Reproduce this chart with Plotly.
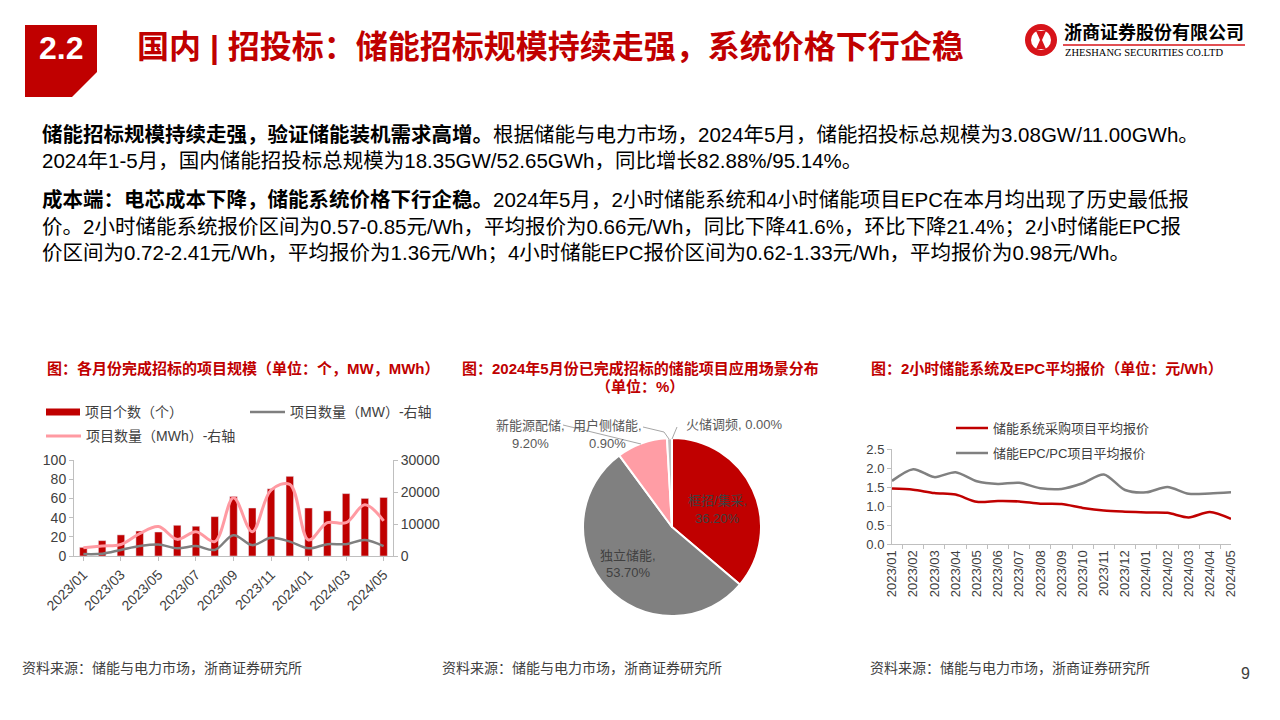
import plotly.graph_objects as go

W, H = 1280, 720
def px(x): return x / W
def py(y): return 1 - y / H

FONT = "Liberation Sans, Arial, Noto Sans CJK SC, sans-serif"
RED = "#C00000"
GRAY = "#7F7F7F"
PINK = "#FF9AA2"
AXIS = "#BFBFBF"
TICKC = "#404040"

# ---------------- data ----------------
months = ["2023/01", "2023/02", "2023/03", "2023/04", "2023/05", "2023/06", "2023/07", "2023/08",
          "2023/09", "2023/10", "2023/11", "2023/12", "2024/01", "2024/02", "2024/03", "2024/04", "2024/05"]
project_count = [9, 16, 22, 26, 25, 32, 31, 41, 62, 50, 70, 83, 50, 47, 65, 60, 61]
project_mw = [600, 700, 1900, 3100, 3600, 2400, 3100, 1900, 6500, 3400, 5700, 4500, 2400, 3700, 3700, 5000, 3080]
project_mwh = [2600, 3100, 3600, 7000, 9200, 5200, 7600, 4500, 18200, 7600, 20600, 22400, 5000, 10400, 10400, 16000, 11000]

pie_labels = ["框招/集采", "独立储能", "新能源配储", "用户侧储能", "火储调频"]
pie_values = [36.20, 53.70, 9.20, 0.90, 0.00]
pie_colors = [RED, "#808080", "#FF9DA5", "#BFBFBF", "#D9D9D9"]

sys_price = [1.46, 1.43, 1.34, 1.30, 1.11, 1.13, 1.12, 1.06, 1.05, 0.95, 0.88, 0.85, 0.83, 0.82, 0.70, 0.84, 0.66]
epc_price = [1.66, 1.97, 1.76, 1.89, 1.65, 1.58, 1.61, 1.47, 1.45, 1.60, 1.83, 1.42, 1.36, 1.50, 1.32, 1.33, 1.36]

fig = go.Figure()

# chart 1
fig.add_trace(go.Bar(x=months, y=project_count, marker_color=RED, xaxis="x", yaxis="y",
                     name="项目个数（个）", hoverinfo="skip"))
fig.add_trace(go.Scatter(x=months, y=project_mwh, mode="lines", xaxis="x", yaxis="y2",
                         line=dict(color=PINK, width=3, shape="spline", smoothing=1.0),
                         name="项目数量（MWh）-右轴", hoverinfo="skip"))
fig.add_trace(go.Scatter(x=months, y=project_mw, mode="lines", xaxis="x", yaxis="y2",
                         line=dict(color=GRAY, width=2.5, shape="spline", smoothing=1.0),
                         name="项目数量（MW）-右轴", hoverinfo="skip"))

# chart 2 (pie)
cx, cy, r = 672, 527, 89
fig.add_trace(go.Pie(labels=pie_labels, values=pie_values, sort=False, direction="clockwise",
                     rotation=0, marker=dict(colors=pie_colors, line=dict(color="white", width=2)),
                     textinfo="none", hoverinfo="skip", showlegend=False,
                     domain=dict(x=[px(cx - r), px(cx + r)], y=[py(cy + r), py(cy - r)])))

# chart 3
fig.add_trace(go.Scatter(x=months, y=sys_price, mode="lines", xaxis="x2", yaxis="y3",
                         line=dict(color=RED, width=2.5, shape="spline", smoothing=0.8),
                         name="储能系统采购项目平均报价", hoverinfo="skip"))
fig.add_trace(go.Scatter(x=months, y=epc_price, mode="lines", xaxis="x2", yaxis="y3",
                         line=dict(color="#808080", width=2.5, shape="spline", smoothing=0.8),
                         name="储能EPC/PC项目平均报价", hoverinfo="skip"))

common_axis = dict(showgrid=False, zeroline=False, showline=True, linecolor=AXIS, linewidth=1,
                   ticks="outside", ticklen=4, tickcolor=AXIS, automargin=False)

fig.update_layout(
    width=W, height=H, margin=dict(l=0, r=0, t=0, b=0, autoexpand=False),
    paper_bgcolor="white", plot_bgcolor="white", showlegend=False,
    font=dict(family=FONT), bargap=0.6,
    xaxis=dict(domain=[px(74), px(393)], anchor="y", type="category", categoryorder="array",
               categoryarray=months, tickvals=months[::2], tickangle=-45,
               tickfont=dict(family=FONT, size=14, color=TICKC), **common_axis),
    yaxis=dict(domain=[py(556), py(460)], anchor="x", range=[0, 100], dtick=20,
               tickfont=dict(family=FONT, size=14, color=TICKC), **common_axis),
    yaxis2=dict(overlaying="y", side="right", anchor="x", range=[0, 30000], dtick=10000, tickformat="d",
                tickfont=dict(family=FONT, size=14, color=TICKC), **common_axis),
    xaxis2=dict(domain=[px(892), px(1231)], anchor="y3", type="category", categoryorder="array",
                categoryarray=months, tickangle=-90, tickson="boundaries",
                tickfont=dict(family=FONT, size=13, color=TICKC), **common_axis),
    yaxis3=dict(domain=[py(544), py(449)], anchor="x2", range=[0, 2.5], dtick=0.5, tickformat=".1f",
                tickfont=dict(family=FONT, size=13, color=TICKC), **common_axis),
)

ann = []
shapes = []

def text(x, y, s, size=14, color="#000", xanchor="left", bold=False, family=FONT):
    ann.append(dict(x=px(x), y=py(y), xref="paper", yref="paper", text=(f"<b>{s}</b>" if bold else s),
                    showarrow=False, xanchor=xanchor, yanchor="middle",
                    font=dict(family=family, size=size, color=color)))

def line(x0, y0, x1, y1, color, width):
    shapes.append(dict(type="line", xref="paper", yref="paper", x0=px(x0), y0=py(y0), x1=px(x1), y1=py(y1),
                       line=dict(color=color, width=width)))

# header
shapes.append(dict(type="path", xref="paper", yref="paper", fillcolor=RED, line=dict(width=0),
                   path=f"M {px(25)} {py(25)} L {px(97)} {py(25)} L {px(97)} {py(72)} L {px(72)} {py(97)} L {px(25)} {py(97)} Z"))
text(61, 48, "2.2", size=32, color="white", xanchor="center", bold=True)
text(135, 47, "国内 | 招投标：储能招标规模持续走强，系统价格下行企稳", size=32, color=RED, bold=True)

# logo
shapes.append(dict(type="circle", xref="paper", yref="paper", x0=px(1025), x1=px(1057), y0=py(56), y1=py(24),
                   fillcolor="#D7141A", line=dict(width=0)))
shapes.append(dict(type="circle", xref="paper", yref="paper", x0=px(1031), x1=px(1051), y0=py(50), y1=py(30),
                   fillcolor="white", line=dict(width=0)))
shapes.append(dict(type="path", xref="paper", yref="paper", fillcolor="#D7141A", line=dict(width=0),
                   path=f"M {px(1036)} {py(31)} L {px(1046)} {py(31)} L {px(1042)} {py(40)} L {px(1046)} {py(49)} L {px(1036)} {py(49)} L {px(1040)} {py(40)} Z"))
text(1062, 33, "<b>浙商证券股份有限公司</b>", size=18, color="#000")
line(1063, 45, 1245, 45, "#D7141A", 1.5)
text(1063, 53, "ZHESHANG SECURITIES CO.LTD", size=10.5, color="#000", family="Liberation Serif, serif")

# body text
BS = 20.5
text(40, 134, "<b>储能招标规模持续走强，验证储能装机需求高增。</b>根据储能与电力市场，2024年5月，储能招投标总规模为3.08GW/11.00GWh。", size=BS)
text(40, 160, "2024年1-5月，国内储能招投标总规模为18.35GW/52.65GWh，同比增长82.88%/95.14%。", size=BS)
text(40, 199, "<b>成本端：电芯成本下降，储能系统价格下行企稳。</b>2024年5月，2小时储能系统和4小时储能项目EPC在本月均出现了历史最低报", size=BS)
text(40, 226, "价。2小时储能系统报价区间为0.57-0.85元/Wh，平均报价为0.66元/Wh，同比下降41.6%，环比下降21.4%；2小时储能EPC报", size=BS)
text(40, 253, "价区间为0.72-2.41元/Wh，平均报价为1.36元/Wh；4小时储能EPC报价区间为0.62-1.33元/Wh，平均报价为0.98元/Wh。", size=BS)

# chart titles
text(45, 369, "图：各月份完成招标的项目规模（单位：个，MW，MWh）", size=15, color=RED, bold=True)
text(640, 368, "图：2024年5月份已完成招标的储能项目应用场景分布", size=15, color=RED, xanchor="center", bold=True)
text(640, 386, "（单位：%）", size=15, color=RED, xanchor="center", bold=True)
text(869, 369, "图：2小时储能系统及EPC平均报价（单位：元/Wh）", size=15, color=RED, bold=True)

# chart 1 legend
line(46, 412, 80, 412, RED, 7)
text(83, 412, "项目个数（个）", size=14, color=TICKC)
line(250, 412, 285, 412, GRAY, 2.5)
text(288, 412, "项目数量（MW）-右轴", size=14, color=TICKC)
line(46, 436, 81, 436, PINK, 3)
text(84, 436, "项目数量（MWh）-右轴", size=14, color=TICKC)

# chart 3 legend
line(956, 428, 988, 428, RED, 2.5)
text(991, 428, "储能系统采购项目平均报价", size=13, color=TICKC)
line(956, 453, 988, 453, "#808080", 2.5)
text(991, 453, "储能EPC/PC项目平均报价", size=13, color=TICKC)

# pie labels
LBL = "#595959"
text(717, 500, f"{pie_labels[0]},", size=13, color="#404040", xanchor="center")
text(717, 518, f"{pie_values[0]:.2f}%", size=13, color="#404040", xanchor="center")
text(628, 555, f"{pie_labels[1]},", size=13, color="#404040", xanchor="center")
text(628, 572, f"{pie_values[1]:.2f}%", size=13, color="#404040", xanchor="center")
text(530, 425, f"{pie_labels[2]},", size=13, color=LBL, xanchor="center")
text(530, 443, f"{pie_values[2]:.2f}%", size=13, color=LBL, xanchor="center")
text(607, 425, f"{pie_labels[3]},", size=13, color=LBL, xanchor="center")
text(607, 443, f"{pie_values[3]:.2f}%", size=13, color=LBL, xanchor="center")
text(684, 424, f"{pie_labels[4]}, {pie_values[4]:.2f}%", size=13, color=LBL)
LL = "#A6A6A6"
line(563, 425, 641, 444, LL, 1)
shapes.append(dict(type="path", xref="paper", yref="paper", line=dict(color=LL, width=1),
                   path=f"M {px(643)} {py(427)} L {px(664)} {py(432)} L {px(669)} {py(439)}"))
line(677, 427, 672, 439, LL, 1)

# footers
for fx in (20, 440, 868):
    text(fx, 668, "资料来源：储能与电力市场，浙商证券研究所", size=14, color="#404040")
text(1245, 673, "9", size=16, color="#404040", xanchor="center")

fig.update_layout(annotations=ann, shapes=shapes)
fig.write_html("out.html")
